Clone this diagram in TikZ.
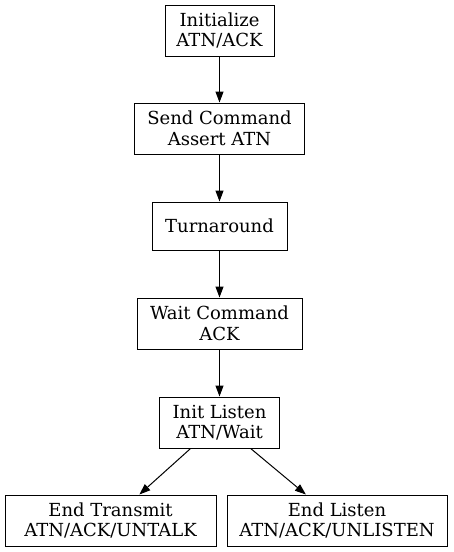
\documentclass[tikz,border=0pt]{standalone}
\usepackage{fontspec}
\setmainfont{DejaVu Serif}
\usetikzlibrary{arrows.meta}
\begin{document}
\begin{tikzpicture}[x=1pt,y=-1pt,
  box/.style={draw, line width=1pt, align=center, inner sep=0pt, font=\fontsize{18}{20.5}\selectfont, minimum height=51pt},
  arr/.style={line width=1pt, -{Triangle[length=11pt,width=8pt]}}]
\useasboundingbox (0,0) rectangle (453,552);
\node[box, minimum width=109pt] (init) at (219.5,30.5) {Initialize\\ATN/ACK};
\node[box, minimum width=170pt] (send) at (219.5,128.5) {Send Command\\Assert ATN};
\node[box, minimum width=135pt, minimum height=48pt] (turn) at (219.5,226) {Turnaround};
\node[box, minimum width=165pt] (wait) at (219.5,323.5) {Wait Command\\ACK};
\node[box, minimum width=120pt] (listen) at (219.5,422.5) {Init Listen\\ATN/Wait};
\node[box, minimum width=211pt] (endt) at (110.5,520.5) {End Transmit\\ATN/ACK/UNTALK};
\node[box, minimum width=220pt] (endl) at (337,520.5) {End Listen\\ATN/ACK/UNLISTEN};
\draw[arr] (init) -- (send);
\draw[arr] (send) -- (turn);
\draw[arr] (turn) -- (wait);
\draw[arr] (wait) -- (listen);
\draw[arr] (listen) -- (endt);
\draw[arr] (listen) -- (endl);
\end{tikzpicture}
\end{document}
